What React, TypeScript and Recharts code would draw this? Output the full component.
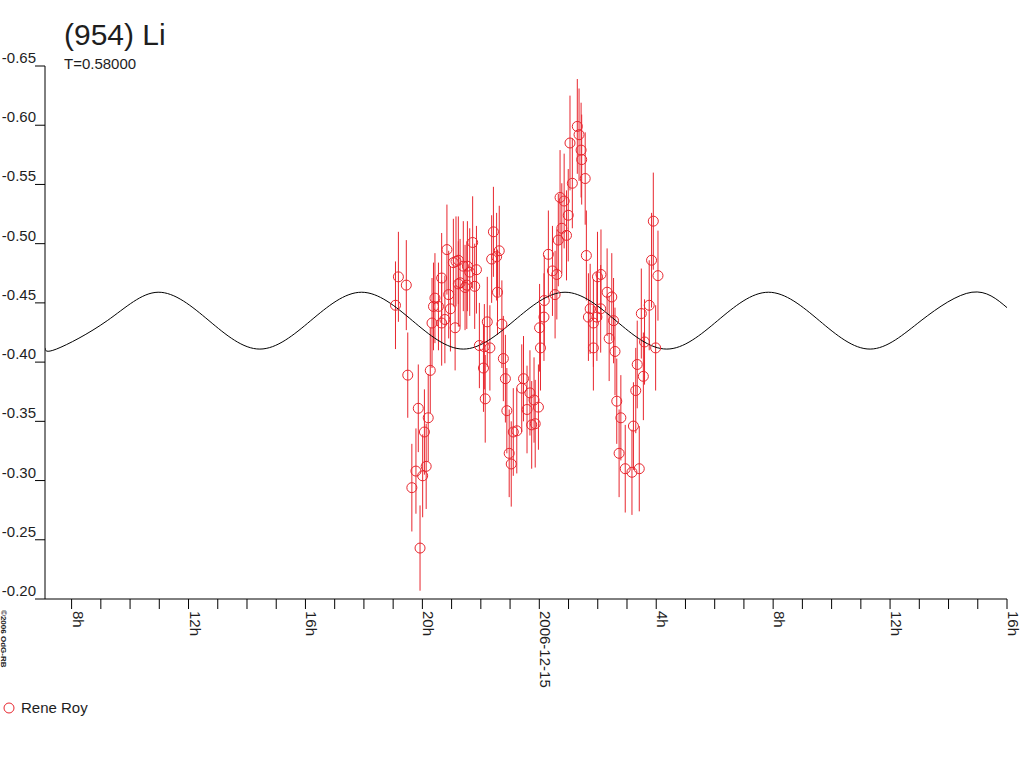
import React from 'react';
import { ComposedChart, Scatter, Line, XAxis, YAxis, ErrorBar } from 'recharts';

// hours since 2006-12-14 00:00 UT
const times = [
  19.08, 19.18, 19.45, 19.50, 19.64, 19.78, 19.86, 19.92, 20.01, 20.07,
  20.13, 20.20, 20.27, 20.33, 20.38, 20.43, 20.55, 20.66, 20.66, 20.77,
  20.84, 20.90, 20.96, 21.06, 21.12, 21.15, 21.23, 21.23, 21.29, 21.40,
  21.46, 21.52, 21.54, 21.62, 21.72, 21.79, 21.85, 21.95, 22.09, 22.12,
  22.15, 22.22, 22.31, 22.37, 22.43, 22.54, 22.57, 22.63, 22.72, 22.77,
  22.84, 22.89, 22.97, 23.04, 23.11, 23.23, 23.40, 23.46, 23.58, 23.68,
  23.74, 23.82, 23.86, 23.97, 24.01, 24.04, 24.16, 24.17, 24.31, 24.45,
  24.54, 24.60, 24.65, 24.71, 24.77, 24.85, 24.93, 24.99, 25.05, 25.13,
  25.30, 25.36, 25.43, 25.45, 25.57, 25.61, 25.68, 25.74, 25.85, 25.85,
  25.97, 25.99, 26.10, 26.11, 26.32, 26.39, 26.48, 26.54, 26.59, 26.65,
  26.73, 26.79, 26.94, 27.17, 27.22, 27.30, 27.35, 27.42, 27.49, 27.56,
  27.60, 27.76, 27.84, 27.90, 27.98, 28.06,
];

const mags = [
  -0.448, -0.472, -0.465, -0.389, -0.294, -0.308, -0.361, -0.243, -0.304, -0.341,
  -0.312, -0.353, -0.393, -0.433, -0.447, -0.454, -0.447, -0.471, -0.433, -0.436,
  -0.495, -0.457, -0.445, -0.484, -0.429, -0.485, -0.486, -0.466, -0.467, -0.481,
  -0.463, -0.465, -0.481, -0.476, -0.501, -0.464, -0.478, -0.414, -0.395, -0.413,
  -0.369, -0.434, -0.412, -0.487, -0.510, -0.489, -0.459, -0.494, -0.432, -0.403,
  -0.386, -0.359, -0.323, -0.314, -0.341, -0.342, -0.378, -0.386, -0.360, -0.374,
  -0.347, -0.368, -0.348, -0.362, -0.429, -0.412, -0.438, -0.452, -0.491, -0.477,
  -0.457, -0.474, -0.503, -0.539, -0.513, -0.536, -0.507, -0.524, -0.585, -0.551,
  -0.599, -0.592, -0.579, -0.571, -0.555, -0.490, -0.438, -0.445, -0.433, -0.412,
  -0.438, -0.472, -0.445, -0.474, -0.459, -0.420, -0.455, -0.435, -0.409, -0.367,
  -0.323, -0.353, -0.310, -0.307, -0.346, -0.376, -0.398, -0.310, -0.441, -0.388,
  -0.417, -0.448, -0.486, -0.519, -0.412, -0.473,
];

const errs = [
  0.037, 0.038, 0.038, 0.036, 0.037, 0.036, 0.037, 0.036, 0.035, 0.036,
  0.036, 0.037, 0.036, 0.038, 0.037, 0.038, 0.037, 0.038, 0.036, 0.037,
  0.038, 0.037, 0.036, 0.037, 0.036, 0.038, 0.037, 0.036, 0.037, 0.038,
  0.036, 0.037, 0.038, 0.037, 0.039, 0.036, 0.037, 0.036, 0.037, 0.036,
  0.037, 0.038, 0.036, 0.037, 0.038, 0.037, 0.036, 0.038, 0.037, 0.036,
  0.037, 0.036, 0.037, 0.036, 0.037, 0.036, 0.037, 0.036, 0.037, 0.036,
  0.037, 0.036, 0.037, 0.036, 0.037, 0.036, 0.037, 0.038, 0.037, 0.038,
  0.037, 0.038, 0.039, 0.040, 0.038, 0.040, 0.038, 0.039, 0.040, 0.038,
  0.040, 0.039, 0.040, 0.038, 0.039, 0.038, 0.037, 0.038, 0.037, 0.036,
  0.037, 0.038, 0.037, 0.038, 0.037, 0.036, 0.037, 0.036, 0.037, 0.036,
  0.037, 0.036, 0.037, 0.036, 0.037, 0.036, 0.037, 0.036, 0.038, 0.037,
  0.036, 0.038, 0.040, 0.041, 0.036, 0.038,
];

// model lightcurve: troughs, crossings and peaks
const modelTimes = [
  7.09, 7.48, 9.22, 10.96, 12.70, 14.44, 16.18, 17.92, 19.66, 21.40, 23.14,
  24.88, 26.62, 28.36, 30.10, 31.84, 33.58, 35.32, 37.06, 38.80, 40.0,
];
const modelMags = [
  -0.412, -0.411, -0.435, -0.459, -0.435, -0.411, -0.435, -0.459, -0.435, -0.411, -0.435,
  -0.459, -0.435, -0.411, -0.435, -0.459, -0.435, -0.411, -0.435, -0.459, -0.446,
];

const hourTicks = [
  8, 9, 10, 11, 12, 13, 14, 15, 16, 17, 18, 19, 20, 21, 22, 23, 24,
  25, 26, 27, 28, 29, 30, 31, 32, 33, 34, 35, 36, 37, 38, 39, 40,
];
const magTicks = [-0.65, -0.6, -0.55, -0.5, -0.45, -0.4, -0.35, -0.3, -0.25, -0.2];

const title = '(954) Li';
const subtitle = 'T=0.58000';
const observer = 'Rene Roy';
const dateLabel = '2006-12-15';

const RED = '#e8262e';
const INK = '#1e1e1e';
const FONT = '"Liberation Sans", Arial, sans-serif';

const points = times.map((t, i) => ({ t, mag: mags[i], err: errs[i] }));
const model = modelTimes.map((t, i) => ({ t, mag: modelMags[i] }));

function XTick(props: any) {
  const { x, y, payload } = props;
  const v = payload.value;
  if (v % 4 !== 0) return <g />;
  const label = v === 24 ? dateLabel : `${v % 24}h`;
  const tx = x + 1;
  const ty = y + 2;
  return (
    <text x={tx} y={ty} transform={`rotate(90, ${tx}, ${ty})`} fontSize={15} fontFamily={FONT} fill={INK} textAnchor="start">
      {label}
    </text>
  );
}

function YTick(props: any) {
  const { x, y, payload } = props;
  return (
    <text x={x + 1} y={y - 3} fontSize={15} fontFamily={FONT} fill={INK} textAnchor="end">
      {payload.value.toFixed(2)}
    </text>
  );
}

function Ring(props: any) {
  const { cx, cy } = props;
  return <circle cx={cx} cy={cy} r={5} fill="none" stroke={RED} strokeWidth={1} />;
}

export default function App() {
  return (
    <div style={{ position: 'absolute', left: 0, top: 0, width: 1024, height: 768, background: '#fff' }}>
      <ComposedChart width={1024} height={768} margin={{ top: 66, right: 17, bottom: 0, left: 0 }}>
        <XAxis
          type="number"
          dataKey="t"
          domain={[7.09, 40]}
          ticks={hourTicks}
          interval={0}
          allowDataOverflow
          tickSize={10}
          tickMargin={0}
          height={169}
          axisLine={{ stroke: '#000' }}
          tickLine={{ stroke: '#000' }}
          tick={<XTick />}
        />
        <YAxis
          type="number"
          dataKey="mag"
          reversed
          domain={[-0.65, -0.2]}
          ticks={magTicks}
          interval={0}
          allowDataOverflow
          width={45}
          tickSize={10}
          tickMargin={0}
          axisLine={{ stroke: '#000' }}
          tickLine={{ stroke: '#000' }}
          tick={<YTick />}
        />
        <Scatter data={points} dataKey="mag" shape={<Ring />} isAnimationActive={false} legendType="none">
          <ErrorBar dataKey="err" direction="y" width={0} stroke={RED} strokeWidth={1} />
        </Scatter>
        <Line
          data={model}
          dataKey="mag"
          type="natural"
          stroke="#000"
          strokeWidth={1}
          dot={false}
          activeDot={false}
          isAnimationActive={false}
          legendType="none"
        />
      </ComposedChart>
      <svg width={1024} height={768} style={{ position: 'absolute', left: 0, top: 0, pointerEvents: 'none' }}>
        <text x={64} y={45} fontSize={30} fontFamily={FONT} fill={INK}>{title}</text>
        <text x={64} y={69} fontSize={15} fontFamily={FONT} fill={INK}>{subtitle}</text>
        <text x={1} y={610} transform="rotate(90, 1, 610)" fontSize={8} fontWeight="bold" fontFamily={FONT} fill={INK}>
          ©2006 OdG-RB
        </text>
        <circle cx={9} cy={708} r={5} fill="none" stroke={RED} strokeWidth={1} />
        <text x={21} y={713} fontSize={15} fontFamily={FONT} fill={INK}>{observer}</text>
      </svg>
    </div>
  );
}
